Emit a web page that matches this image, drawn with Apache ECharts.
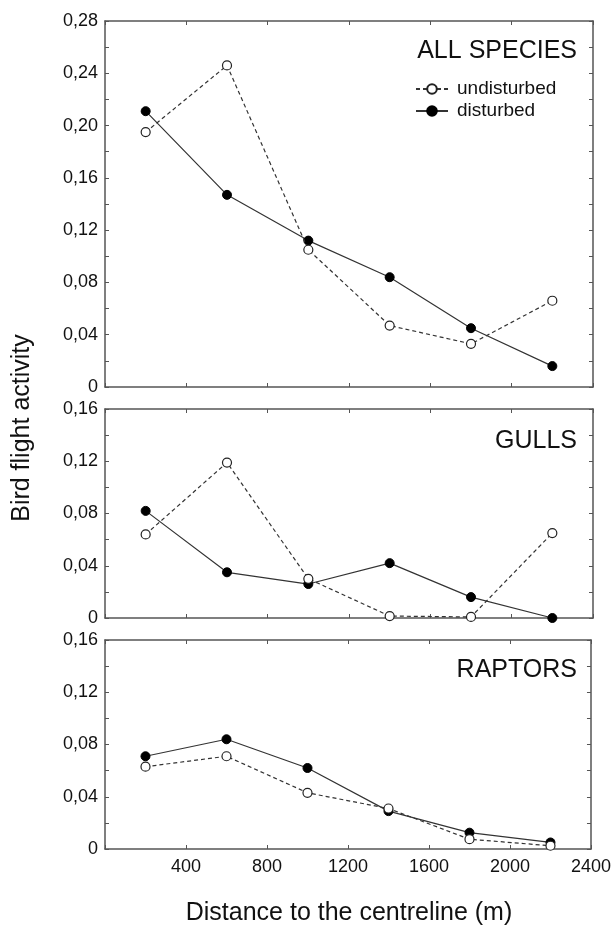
<!DOCTYPE html>
<html>
<head>
<meta charset="utf-8">
<script src="https://cdn.jsdelivr.net/npm/echarts@6/dist/echarts.min.js"></script>
<style>
  html, body { margin: 0; padding: 0; background: #fff; }
  #chart { width: 614px; height: 928px; }
</style>
</head>
<body>
<div id="chart"></div>
<script>
// distances (m)
const distances = [200, 600, 1000, 1400, 1800, 2200];

const panelNames = ["ALL SPECIES", "GULLS", "RAPTORS"];
const panelMax = [0.28, 0.16, 0.16];

const allUndisturbed = [0.195, 0.246, 0.105, 0.047, 0.033, 0.066];
const allDisturbed = [0.211, 0.147, 0.112, 0.084, 0.045, 0.016];

const gullsUndisturbed = [0.064, 0.119, 0.030, 0.0015, 0.0008, 0.065];
const gullsDisturbed = [0.082, 0.035, 0.026, 0.042, 0.016, 0.0];

const raptorsUndisturbed = [0.063, 0.071, 0.043, 0.031, 0.0075, 0.0025];
const raptorsDisturbed = [0.071, 0.084, 0.062, 0.029, 0.0125, 0.005];

const undisturbed = [allUndisturbed, gullsUndisturbed, raptorsUndisturbed];
const disturbed = [allDisturbed, gullsDisturbed, raptorsDisturbed];

const FONT = "Liberation Sans, Arial, sans-serif";
const frame = { show: true, onZero: false, lineStyle: { color: "#555", width: 1.5 } };

const grids = [
  { left: 105, right: 21, top: 21, height: 366 },
  { left: 105, right: 21, top: 409, height: 209 },
  { left: 105, right: 21, top: 640, height: 209 },
];

const yFmt = (v) => (v === 0 ? "0" : v.toFixed(2).replace(".", ","));

const xAxes = [];
const yAxes = [];
const series = [];
const titles = [];

grids.forEach((g, i) => {
  const last = i === grids.length - 1;
  ["bottom", "top"].forEach((pos) => {
    xAxes.push({
      type: "value",
      gridIndex: i,
      position: pos,
      min: 0,
      max: 2400,
      interval: 400,
      axisLine: frame,
      axisTick: { show: true, inside: true, length: 4, lineStyle: { color: "#555" } },
      axisLabel: {
        show: last && pos === "bottom",
        margin: 9,
        fontFamily: FONT,
        fontSize: 18,
        color: "#111",
        formatter: (v) => (v === 0 ? "" : String(v)),
      },
      splitLine: { show: false },
    });
  });
  ["left", "right"].forEach((pos) => {
    yAxes.push({
      type: "value",
      gridIndex: i,
      position: pos,
      min: 0,
      max: panelMax[i],
      interval: 0.04,
      axisLine: frame,
      axisTick: { show: true, inside: true, length: 4, lineStyle: { color: "#555" } },
      minorTick: { show: true, splitNumber: 2, length: 4, lineStyle: { color: "#555" } },
      axisLabel: {
        show: pos === "left",
        margin: 7,
        fontFamily: FONT,
        fontSize: 18,
        color: "#111",
        formatter: yFmt,
      },
      splitLine: { show: false },
    });
  });

  series.push({
    name: "disturbed",
    type: "line",
    xAxisIndex: i * 2,
    yAxisIndex: i * 2,
    data: distances.map((d, k) => [d, disturbed[i][k]]),
    symbol: "circle",
    symbolSize: 9,
    lineStyle: { color: "#333", width: 1.2, type: "solid" },
    itemStyle: { color: "#000", borderColor: "#000", borderWidth: 1 },
    z: 2,
  });
  series.push({
    name: "undisturbed",
    type: "line",
    xAxisIndex: i * 2,
    yAxisIndex: i * 2,
    data: distances.map((d, k) => [d, undisturbed[i][k]]),
    symbol: "circle",
    symbolSize: 9,
    lineStyle: { color: "#333", width: 1.2, type: [4, 3] },
    itemStyle: { color: "#fff", borderColor: "#222", borderWidth: 1.2 },
    z: 3,
  });
});

titles.push({ text: panelNames[0], right: 37, top: 39 });
titles.push({ text: panelNames[1], right: 37, top: 429 });
titles.push({ text: panelNames[2], right: 37, top: 658 });
titles.forEach((t) => {
  t.padding = 0;
  t.textStyle = { fontFamily: FONT, fontSize: 25, fontWeight: "normal", color: "#111" };
});

const option = {
  animation: false,
  backgroundColor: "#fff",
  grid: grids,
  xAxis: xAxes,
  yAxis: yAxes,
  title: titles,
  legend: {
    data: ["undisturbed", "disturbed"],
    orient: "vertical",
    left: 415,
    top: 79,
    padding: 0,
    itemGap: 2,
    itemWidth: 32,
    itemHeight: 12,
    selectedMode: false,
    textStyle: { fontFamily: FONT, fontSize: 19, color: "#111", lineHeight: 20, padding: [0, 0, 0, 4] },
  },
  graphic: [
    {
      type: "text",
      x: 22,
      y: 428,
      rotation: Math.PI / 2,
      style: {
        text: "Bird flight activity",
        font: "25px " + FONT,
        fill: "#111",
        textAlign: "center",
        textVerticalAlign: "middle",
      },
    },
    {
      type: "text",
      x: 349,
      y: 913,
      style: {
        text: "Distance to the centreline (m)",
        font: "25px " + FONT,
        fill: "#111",
        textAlign: "center",
        textVerticalAlign: "middle",
      },
    },
  ],
  series: series,
};

const chart = echarts.init(document.getElementById("chart"));
chart.setOption(option);
</script>
</body>
</html>
